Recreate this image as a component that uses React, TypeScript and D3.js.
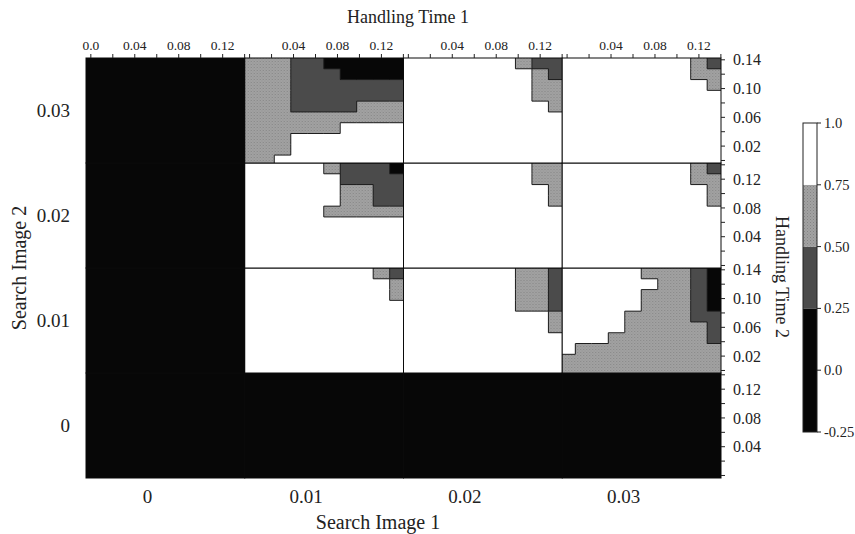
import React from "react";
import * as d3 from "d3";

// outer grid: search image values
const searchImage1 = ["0", "0.01", "0.02", "0.03"];
const searchImage2 = ["0", "0.01", "0.02", "0.03"];

// handling time of the cells, same on both inner axes
const handlingTimes = [0, 0.015, 0.03, 0.045, 0.06, 0.075, 0.09, 0.105, 0.12, 0.135];
const htTicks = [0, 0.02, 0.04, 0.06, 0.08, 0.1, 0.12, 0.14];

// probability class of a cell: 0 = below 0.25, 1 = 0.25-0.5, 2 = 0.5-0.75, 3 = above 0.75
// rows go from Handling Time 2 = 0.135 (top) down to 0, columns Handling Time 1 = 0 .. 0.135
const allBlack = [
  "0000000000",
  "0000000000",
  "0000000000",
  "0000000000",
  "0000000000",
  "0000000000",
  "0000000000",
  "0000000000",
  "0000000000",
  "0000000000",
];
const si01si03 = [
  "2221100000",
  "2221110000",
  "2221111111",
  "2221111111",
  "2221111222",
  "2222222222",
  "2222223333",
  "2223333333",
  "2223333333",
  "2233333333",
];
const si02si03 = [
  "3333333211",
  "3333333321",
  "3333333322",
  "3333333322",
  "3333333332",
  "3333333333",
  "3333333333",
  "3333333333",
  "3333333333",
  "3333333333",
];
const si03si03 = [
  "3333333321",
  "3333333322",
  "3333333332",
  "3333333333",
  "3333333333",
  "3333333333",
  "3333333333",
  "3333333333",
  "3333333333",
  "3333333333",
];
const si01si02 = [
  "3333321110",
  "3333331111",
  "3333332211",
  "3333332211",
  "3333322222",
  "3333333333",
  "3333333333",
  "3333333333",
  "3333333333",
  "3333333333",
];
const si02si02 = [
  "3333333322",
  "3333333322",
  "3333333332",
  "3333333332",
  "3333333333",
  "3333333333",
  "3333333333",
  "3333333333",
  "3333333333",
  "3333333333",
];
const si03si02 = [
  "3333333321",
  "3333333322",
  "3333333332",
  "3333333332",
  "3333333333",
  "3333333333",
  "3333333333",
  "3333333333",
  "3333333333",
  "3333333333",
];
const si01si01 = [
  "3333333321",
  "3333333332",
  "3333333332",
  "3333333333",
  "3333333333",
  "3333333333",
  "3333333333",
  "3333333333",
  "3333333333",
  "3333333333",
];
const si02si01 = [
  "3333333221",
  "3333333221",
  "3333333221",
  "3333333221",
  "3333333332",
  "3333333332",
  "3333333333",
  "3333333333",
  "3333333333",
  "3333333333",
];
const si03si01 = [
  "3333322210",
  "3333332210",
  "3333322210",
  "3333322210",
  "3333222211",
  "3333222221",
  "3332222221",
  "3222222222",
  "2222222222",
  "2222222222",
];

// key: searchImage1|searchImage2
const panels: Record<string, string[]> = {
  "0|0": allBlack, "0|0.01": allBlack, "0|0.02": allBlack, "0|0.03": allBlack,
  "0.01|0": allBlack, "0.02|0": allBlack, "0.03|0": allBlack,
  "0.01|0.01": si01si01, "0.02|0.01": si02si01, "0.03|0.01": si03si01,
  "0.01|0.02": si01si02, "0.02|0.02": si02si02, "0.03|0.02": si03si02,
  "0.01|0.03": si01si03, "0.02|0.03": si02si03, "0.03|0.03": si03si03,
};

// colour classes
const classBreaks = [-0.25, 0.25, 0.5, 0.75, 1.0];
const classFills = ["#070707", "#4b4b4b", "url(#lightTex)", "#ffffff"];
const legendTicks = [1.0, 0.75, 0.5, 0.25, 0.0, -0.25];
const legendLabels = ["1.0", "0.75", "0.50", "0.25", "0.0", "-0.25"];

const font = "'Liberation Serif', 'Times New Roman', serif";

export default function App() {
  const width = 855;
  const height = 534;

  const outerX = d3.scaleBand<string>().domain(searchImage1).range([86, 721]);
  const outerY = d3.scaleBand<string>().domain(searchImage2).range([478, 58]);
  const bw = outerX.bandwidth();
  const bh = outerY.bandwidth();

  const hx = d3.scaleLinear().domain([-0.0044, 0.1401]).range([0, bw]);
  const hy = d3.scaleLinear().domain([-0.0035, 0.1425]).range([bh, 0]);
  const half = (handlingTimes[1] - handlingTimes[0]) / 2;
  const n = handlingTimes.length;

  const x0 = (h: number) => Math.max(0, hx(h - half));
  const x1 = (h: number) => Math.min(bw, hx(h + half));
  const yTop = (h: number) => Math.max(0, hy(h + half));
  const yBot = (h: number) => Math.min(bh, hy(h - half));

  const cb = d3.scaleLinear().domain([-0.25, 1]).range([432, 123]);

  const panelEls: React.ReactNode[] = [];
  searchImage1.forEach((s1) => {
    searchImage2.forEach((s2) => {
      const grid = panels[s1 + "|" + s2];
      const px = outerX(s1)!;
      const py = outerY(s2)!;
      const cells: React.ReactNode[] = [];
      const edges: React.ReactNode[] = [];
      grid.forEach((row, r) => {
        const h2 = handlingTimes[n - 1 - r];
        for (let c = 0; c < n; c++) {
          const h1 = handlingTimes[c];
          const k = +row[c];
          cells.push(
            <rect
              key={`c${r}-${c}`}
              x={x0(h1)}
              y={yTop(h2)}
              width={x1(h1) - x0(h1)}
              height={yBot(h2) - yTop(h2)}
              fill={classFills[k]}
            />
          );
          // thin contour line where the class changes
          if (c < n - 1 && row[c + 1] !== row[c]) {
            const xx = hx(h1 + half);
            edges.push(
              <line key={`v${r}-${c}`} x1={xx} x2={xx} y1={yTop(h2)} y2={yBot(h2)} />
            );
          }
          if (r < n - 1 && grid[r + 1][c] !== row[c]) {
            const yy = hy(h2 - half);
            edges.push(
              <line key={`h${r}-${c}`} x1={x0(h1)} x2={x1(h1)} y1={yy} y2={yy} />
            );
          }
        }
      });
      panelEls.push(
        <g key={s1 + s2} transform={`translate(${px},${py})`}>
          <g shapeRendering="crispEdges">{cells}</g>
          <g stroke="#1e1e1e" strokeWidth={1}>{edges}</g>
          <rect width={bw} height={bh} fill="none" stroke="#0a0a0a" strokeWidth={1} />
        </g>
      );
    });
  });

  // top axis (Handling Time 1) per column
  const topAxis = searchImage1.map((s1, ci) => {
    const px = outerX(s1)!;
    const labelled = ci === 0 ? [0, 0.04, 0.08, 0.12] : [0.04, 0.08, 0.12];
    return (
      <g key={"t" + s1} transform={`translate(${px},58)`}>
        {htTicks.map((t) => (
          <line key={t} x1={hx(t)} x2={hx(t)} y1={0} y2={-4} stroke="#222" />
        ))}
        {labelled.map((t) => (
          <text key={"l" + t} x={hx(t)} y={-8} textAnchor="middle" fontSize={13.5}>
            {t === 0 ? "0.0" : t.toFixed(2)}
          </text>
        ))}
      </g>
    );
  });

  // right axis (Handling Time 2) per row
  const rightAxis = searchImage2.map((s2, ri) => {
    const py = outerY(s2)!;
    const labelled = ri % 2 === 1 ? [0.02, 0.06, 0.1, 0.14] : [0.04, 0.08, 0.12];
    return (
      <g key={"r" + s2} transform={`translate(721,${py})`}>
        {htTicks.map((t) => (
          <line key={t} x1={0} x2={4} y1={hy(t)} y2={hy(t)} stroke="#222" />
        ))}
        {labelled.map((t) => (
          <text key={"l" + t} x={12} y={hy(t)} dy="0.35em" fontSize={16}>
            {t.toFixed(2)}
          </text>
        ))}
      </g>
    );
  });

  return (
    <svg
      width={width}
      height={height}
      style={{ position: "absolute", left: 0, top: 0, background: "#fff" }}
      fontFamily={font}
      fill="#222"
    >
      <defs>
        <pattern id="lightTex" width={3} height={3} patternUnits="userSpaceOnUse">
          <rect width={3} height={3} fill="#a2a2a2" />
          <rect width={1} height={1} fill="#848484" />
          <rect x={1.5} y={1.5} width={1} height={1} fill="#909090" />
        </pattern>
      </defs>

      {panelEls}
      {topAxis}
      {rightAxis}

      {/* outer category labels */}
      {searchImage1.map((s1) => (
        <text
          key={"b" + s1}
          x={outerX(s1)! + bw / 2 - 18}
          y={503}
          textAnchor="middle"
          fontSize={19}
        >
          {s1}
        </text>
      ))}
      {searchImage2.map((s2) => (
        <text
          key={"lft" + s2}
          x={70}
          y={outerY(s2)! + bh / 2}
          dy="0.35em"
          textAnchor="end"
          fontSize={19}
        >
          {s2}
        </text>
      ))}

      {/* axis titles */}
      <text x={408} y={23} textAnchor="middle" fontSize={18}>
        Handling Time 1
      </text>
      <text x={378} y={529} textAnchor="middle" fontSize={20}>
        Search Image 1
      </text>
      <text
        transform="translate(19,268) rotate(-90)"
        textAnchor="middle"
        dy="0.35em"
        fontSize={20}
      >
        Search Image 2
      </text>
      <text
        transform="translate(782,277) rotate(90)"
        textAnchor="middle"
        dy="0.35em"
        fontSize={18}
      >
        Handling Time 2
      </text>

      {/* colour bar */}
      <g>
        {classFills.map((f, i) => (
          <rect
            key={"cb" + i}
            x={803}
            y={cb(classBreaks[i + 1])}
            width={14}
            height={cb(classBreaks[i]) - cb(classBreaks[i + 1])}
            fill={f}
          />
        ))}
        <rect
          x={803}
          y={cb(1)}
          width={14}
          height={cb(-0.25) - cb(1)}
          fill="none"
          stroke="#222"
        />
        {legendTicks.map((t, i) => (
          <g key={"lt" + t}>
            <line x1={817} x2={821} y1={cb(t)} y2={cb(t)} stroke="#222" />
            <text x={824} y={cb(t)} dy="0.35em" fontSize={14.5}>
              {legendLabels[i]}
            </text>
          </g>
        ))}
      </g>
    </svg>
  );
}
